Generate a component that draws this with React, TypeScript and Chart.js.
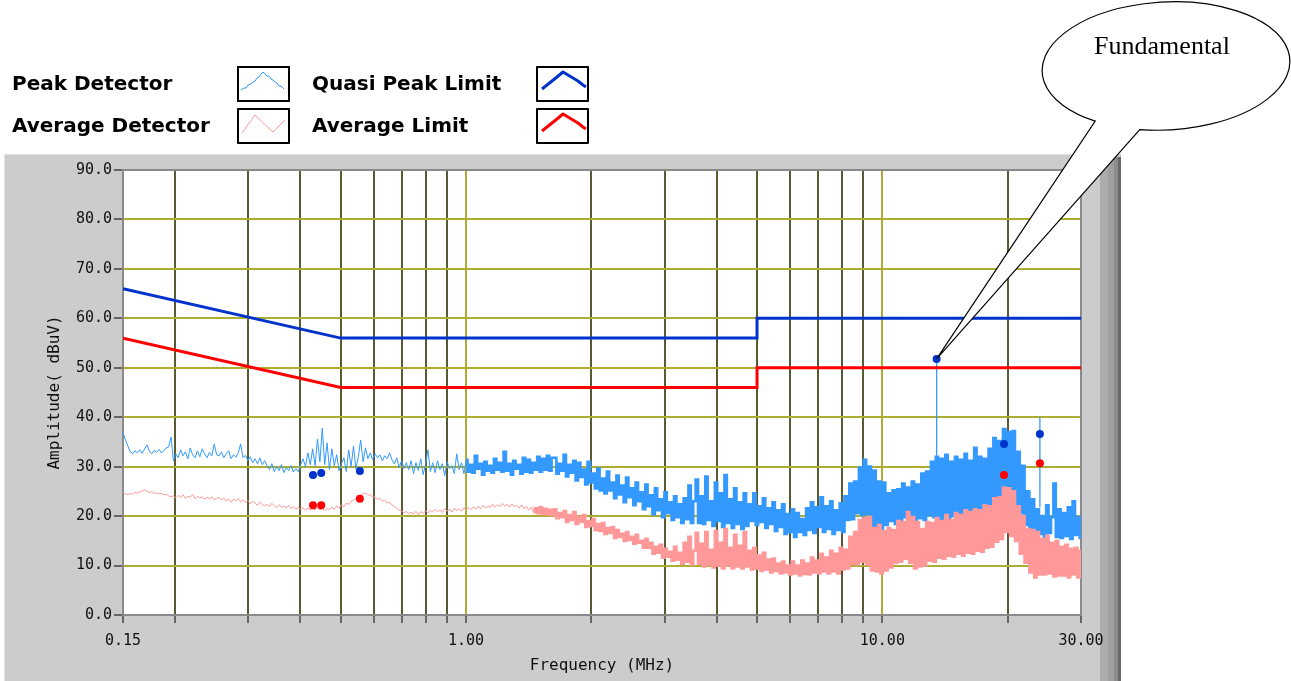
import React, { useEffect, useRef } from 'react';
import { Chart, registerables } from 'chart.js';

Chart.register(...registerables);

const W = 1291;
const H = 681;

// Receiver sweep (log-spaced measurement grid, MHz)
const SWEEP_START_MHZ = 0.15;
const SWEEP_STOP_MHZ = 30;

// Peak detector trace, dBuV (one value per sweep step)
const PEAK_DETECTOR = [
  36.8, 35.5, 34.2, 33.0, 32.6, 33.2, 32.8, 33.4, 32.7, 33.6, 34.4, 33.1, 32.6, 33.3, 32.9, 33.5, 32.8, 33.2, 33.8, 34.0,
  36.0, 31.2, 32.6, 31.8, 33.4, 32.2, 33.0, 31.6, 33.8, 32.4, 31.8, 33.2, 32.0, 33.6, 32.6, 31.8, 32.9, 32.2, 34.6, 32.4,
  32.2, 33.0, 31.8, 32.6, 33.2, 31.6, 32.4, 31.9, 32.8, 34.6, 31.8, 32.3, 31.2, 32.0, 30.8, 31.6, 30.6, 31.8, 30.4, 31.2,
  30.2, 29.4, 30.6, 29.0, 30.0, 29.2, 30.4, 28.8, 29.8, 29.2, 30.2, 28.9, 29.6, 29.0, 30.4, 31.6, 30.0, 32.8, 30.4, 33.6,
  30.2, 35.6, 31.0, 37.8, 30.4, 34.8, 29.4, 33.6, 30.2, 32.4, 29.2, 30.6, 31.8, 29.0, 33.4, 30.0, 34.2, 29.6, 32.0, 35.4,
  31.0, 33.8, 31.6, 32.8, 31.4, 32.6, 31.8, 32.4, 31.2, 32.2, 31.6, 32.8, 31.4, 30.6, 31.8, 29.8, 31.2, 29.6, 30.8, 29.4,
  31.2, 28.6, 30.8, 29.2, 31.6, 28.4, 30.4, 33.4, 29.0, 30.8, 28.8, 31.2, 29.4, 30.6, 28.2, 31.0, 29.6, 30.2, 28.6, 32.6,
  29.4, 30.8, 28.6, 31.4, 29.0, 30.4, 28.8, 32.2, 29.6, 30.6, 28.4, 31.0, 29.2, 30.2, 28.8, 31.6, 29.4, 30.8, 29.0, 33.0,
  29.2, 30.6, 28.4, 31.2, 29.6, 30.4, 28.6, 31.8, 29.0, 31.4, 28.8, 30.8, 29.4, 32.0, 29.0, 31.6, 29.4, 32.2, 29.2, 31.8,
  31.8, 28.6, 30.6, 29.2, 32.4, 28.0, 30.4, 28.8, 31.2, 27.2, 30.8, 27.9, 29.4, 26.4, 31.0, 26.8, 28.6, 25.6, 29.6, 25.2,
  27.6, 24.6, 29.0, 25.2, 26.8, 23.6, 28.2, 24.4, 26.2, 22.8, 27.8, 23.8, 25.6, 22.2, 26.8, 23.0, 24.8, 21.4, 26.4, 22.0,
  24.2, 20.4, 25.6, 21.2, 23.4, 19.8, 24.8, 20.6, 22.8, 19.2, 24.0, 19.8, 22.4, 18.6, 23.6, 19.4, 26.2, 18.6, 23.0, 27.4,
  18.6, 24.0, 18.4, 28.0, 19.2, 23.0, 18.0, 26.8, 19.0, 24.6, 17.8, 28.3, 18.6, 23.4, 17.6, 25.6, 18.4, 22.8, 17.4, 24.6,
  18.0, 22.4, 19.0, 24.6, 18.2, 22.0, 18.8, 23.6, 17.6, 21.6, 18.4, 22.8, 17.0, 21.2, 17.8, 22.4, 16.4, 20.4, 16.8, 21.4,
  15.8, 20.6, 16.8, 19.4, 16.2, 21.6, 17.2, 22.8, 16.6, 21.8, 17.8, 23.8, 16.8, 22.0, 17.4, 23.0, 16.4, 21.2, 17.2, 22.6,
  16.8, 24.0, 19.2, 26.6, 19.4, 27.0, 20.6, 29.8, 20.2, 31.4, 20.4, 30.0, 18.0, 29.2, 17.8, 27.0, 16.8, 26.8, 18.2, 24.6,
  19.0, 25.2, 18.4, 25.4, 19.0, 26.6, 19.8, 25.8, 19.4, 27.0, 19.0, 26.4, 19.6, 28.6, 19.2, 29.0, 20.2, 31.0, 19.8, 32.0,
  19.4, 31.6, 18.8, 32.4, 19.4, 31.0, 20.0, 32.0, 18.8, 31.4, 19.6, 32.6, 19.0, 31.2, 20.2, 33.8, 19.4, 32.0, 20.6, 31.6,
  20.8, 33.6, 20.6, 35.8, 21.8, 35.2, 21.6, 37.6, 22.8, 37.0, 22.0, 37.2, 21.2, 33.0, 20.6, 30.2, 18.2, 25.0, 17.6, 23.4,
  16.0, 21.4, 16.4, 20.0, 15.6, 22.2, 16.6, 19.8, 26.6, 15.8, 21.4, 15.6, 20.6, 16.0, 21.8, 15.4, 23.0, 16.2, 19.8, 15.6,
];

// Average detector trace, dBuV (one value per sweep step)
const AVERAGE_DETECTOR = [
  24.7, 24.5, 24.3, 24.6, 24.4, 24.8, 24.6, 24.9, 25.1, 25.3, 25.0, 24.8, 24.9, 24.6, 24.7, 24.5, 24.6, 24.3, 24.4, 24.1,
  23.9, 24.1, 23.7, 24.2, 23.8, 24.3, 23.6, 24.0, 23.8, 24.4, 23.5, 24.0, 23.7, 23.9, 23.4, 23.8, 23.5, 23.9, 23.3, 23.6,
  23.8, 23.2, 23.7, 23.0, 23.5, 22.8, 23.4, 23.1, 23.6, 22.9, 23.3, 22.7, 23.2, 22.5, 23.0, 22.6, 22.2, 22.8, 22.4, 22.0,
  22.4, 21.9, 22.6, 22.1, 21.7, 22.3, 21.8, 22.0, 21.6, 22.2, 21.5, 21.9, 21.4, 21.8, 21.3, 21.7, 21.2, 21.6, 21.3, 21.5,
  21.3, 21.7, 21.2, 21.6, 21.1, 21.5, 21.3, 21.8, 21.4, 22.0, 21.6, 22.3, 21.9, 22.6, 22.4, 23.0, 23.3, 23.6, 23.9, 24.2,
  24.5, 24.7, 24.2, 24.4, 23.8, 23.9, 23.4, 23.6, 23.0, 23.2, 22.6, 22.8, 22.2, 22.0, 21.6, 21.2, 21.0, 20.7, 20.9, 20.5,
  20.8, 20.4, 21.0, 20.3, 20.9, 20.5, 21.1, 20.6, 21.2, 20.8, 21.4, 20.9, 21.3, 20.7, 21.5, 21.0, 21.4, 20.8, 21.6, 21.1,
  21.5, 21.0, 21.7, 21.2, 21.8, 21.3, 21.9, 21.4, 22.0, 21.5, 22.2, 21.6, 22.1, 21.7, 22.4, 21.8, 22.3, 21.9, 22.6, 22.0,
  22.4, 21.8, 22.5, 21.9, 22.2, 21.6, 22.3, 21.5, 22.0, 21.2, 21.8, 20.8, 21.6, 20.6, 21.8, 20.4, 21.5, 20.4, 21.3, 20.2,
  21.4, 19.6, 20.6, 19.8, 21.0, 18.8, 20.2, 19.2, 20.8, 18.4, 19.8, 18.8, 20.2, 17.8, 19.0, 18.0, 19.4, 17.2, 18.4, 17.0,
  18.6, 16.4, 17.6, 16.6, 17.8, 15.6, 17.2, 15.8, 16.4, 15.0, 16.8, 15.2, 15.8, 14.4, 16.2, 14.6, 15.0, 13.6, 15.4, 13.6,
  14.6, 12.4, 13.8, 12.6, 14.2, 11.6, 13.4, 11.8, 12.8, 11.0, 13.8, 11.2, 12.6, 10.4, 14.6, 10.8, 15.8, 10.2, 13.0, 16.6,
  10.4, 14.4, 9.8, 16.8, 10.2, 13.2, 9.6, 17.0, 10.0, 14.6, 9.4, 17.4, 10.0, 13.6, 9.4, 16.2, 9.8, 14.0, 9.4, 16.8,
  9.8, 13.0, 9.2, 13.6, 9.4, 12.0, 8.9, 12.6, 9.2, 11.2, 8.6, 11.4, 8.9, 10.4, 8.4, 10.8, 8.6, 10.0, 8.2, 10.8,
  8.4, 10.0, 8.0, 11.0, 8.3, 10.4, 8.2, 11.6, 8.6, 11.0, 8.4, 12.4, 8.8, 11.6, 8.4, 13.0, 8.8, 12.4, 8.4, 13.6,
  9.2, 13.2, 9.4, 15.8, 10.4, 16.8, 10.2, 19.2, 10.8, 19.6, 10.2, 19.8, 9.0, 17.6, 8.8, 18.2, 8.4, 17.0, 9.0, 17.6,
  9.6, 17.2, 10.6, 19.0, 10.8, 18.8, 11.4, 20.8, 10.6, 19.8, 9.4, 18.8, 9.8, 17.4, 10.0, 18.8, 11.0, 18.6, 10.8, 19.6,
  11.6, 19.0, 11.4, 20.2, 12.0, 19.2, 11.8, 20.6, 12.4, 20.2, 12.0, 21.2, 12.6, 20.8, 12.4, 21.4, 13.0, 21.2, 12.8, 22.2,
  13.6, 22.0, 13.8, 23.6, 14.8, 23.8, 15.4, 25.8, 16.8, 25.6, 16.0, 25.0, 15.0, 22.0, 12.4, 20.0, 10.6, 17.4, 8.6, 17.2,
  7.6, 16.8, 8.2, 15.4, 8.2, 16.0, 8.4, 14.6, 7.8, 15.0, 8.0, 13.8, 8.0, 14.2, 7.6, 13.4, 8.2, 13.6, 7.6, 13.0,
];

// Single-frequency peaks of the peak trace (MHz, top dBuV, base dBuV)
const PEAK_STEM_FREQ = [13.5, 23.9];
const PEAK_STEM_TOP = [51.8, 40.0];
const PEAK_STEM_BASE = [32.2, 21.8];

// Limit lines (MHz / dBuV)
const LIMIT_FREQ = [0.15, 0.5, 5, 5, 30];
const QP_LIMIT = [66, 56, 56, 60, 60];
const AVG_LIMIT = [56, 46, 46, 50, 50];

// Final measurement points
const QP_MARK_FREQ = [0.429, 0.449, 0.556, 13.5, 19.6, 23.9];
const QP_MARK_VAL = [28.3, 28.7, 29.1, 51.8, 34.6, 36.6];
const AVG_MARK_FREQ = [0.429, 0.449, 0.556, 19.6, 23.9];
const AVG_MARK_VAL = [22.2, 22.2, 23.5, 28.3, 30.7];
const FUNDAMENTAL_FREQ = 13.5;
const FUNDAMENTAL_VAL = 51.8;

// Axes
const X_TICKS = [0.15, 0.2, 0.3, 0.4, 0.5, 0.6, 0.7, 0.8, 0.9, 1, 2, 3, 4, 5, 6, 7, 8, 9, 10, 20, 30];
const X_LABELED = [0.15, 1, 10, 30];
const X_MAJOR = [1, 10];
const Y_MIN = 0;
const Y_MAX = 90;
const Y_STEP = 10;

// Styles
const C_PEAK = '#3399ff';
const C_AVG = '#ff9999';
const C_QP_LIMIT = '#0033cc';
const C_AVG_LIMIT = '#ff0000';
const C_GRID = '#adad32';
const C_GRID_MINOR = '#5a5a32';
const C_PANEL = '#cccccc';
// above these frequencies the sweep is drawn as a dense min/max band
const PEAK_DENSE_FROM_MHZ = 1.0;
const AVG_DENSE_FROM_MHZ = 1.45;
const DENSE_WIDTH = 2.6;

const LEGEND = [
  { label: 'Peak Detector', color: C_PEAK, width: 1, col: 0, row: 0, shape: 'peak' },
  { label: 'Average Detector', color: C_AVG, width: 1, col: 0, row: 1, shape: 'avg' },
  { label: 'Quasi Peak Limit', color: C_QP_LIMIT, width: 3, col: 1, row: 0, shape: 'lim' },
  { label: 'Average Limit', color: C_AVG_LIMIT, width: 3, col: 1, row: 1, shape: 'lim' },
];

const SWATCH_SHAPES: Record<string, number[][]> = {
  peak: [[3, 23], [6, 21], [8, 21], [10, 18], [13, 17], [15, 15], [17, 14], [19, 11], [21, 10], [23, 7], [25, 5], [27, 7], [29, 9], [31, 9], [33, 12], [35, 13], [37, 15], [39, 16], [41, 19], [43, 19], [46, 22]],
  avg: [[4, 24], [17, 6], [35, 23], [47, 11]],
  lim: [[5, 22], [10, 18], [15, 14], [20, 10], [26, 5], [31, 8], [36, 11], [41, 14], [46, 18], [49, 20]],
};

const TICK_FONT = { family: '"DejaVu Sans Mono", monospace', size: 15 };
const TITLE_FONT = { family: '"DejaVu Sans Mono", monospace', size: 16 };

function sweepFreq(i: number, n: number) {
  return SWEEP_START_MHZ * Math.pow(SWEEP_STOP_MHZ / SWEEP_START_MHZ, i / (n - 1));
}

const decorPlugin = {
  id: 'decor',
  beforeDraw(chart: any) {
    const ctx = chart.ctx;
    const { left, top, right, bottom } = chart.chartArea;
    ctx.save();
    ctx.fillStyle = '#ffffff';
    ctx.fillRect(0, 0, W, H);
    // instrument panel
    ctx.fillStyle = C_PANEL;
    ctx.fillRect(4, 154, 1117, H - 154);
    ctx.fillStyle = '#e2e2e2';
    ctx.fillRect(4, 154, 1096, 1);
    ctx.fillRect(4, 154, 1, H - 154);
    const bands = [[1100, 8, '#adadad'], [1108, 6, '#a0a0a0'], [1114, 4, '#8c8c8c'], [1118, 3, '#686868']];
    for (const [x, w, c] of bands as any) {
      ctx.fillStyle = c;
      ctx.fillRect(x, 157, w, H - 157);
    }
    ctx.fillStyle = '#ffffff';
    ctx.fillRect(left, top, right - left, bottom - top);

    // legend
    ctx.font = 'bold 20px "DejaVu Sans", sans-serif';
    ctx.textBaseline = 'alphabetic';
    ctx.textAlign = 'left';
    for (const item of LEGEND) {
      const tx = item.col === 0 ? 12 : 312;
      const ty = item.row === 0 ? 90 : 132;
      ctx.fillStyle = '#000';
      ctx.fillText(item.label, tx, ty);
      const bx = item.col === 0 ? 238 : 537;
      const by = item.row === 0 ? 67 : 109;
      ctx.fillStyle = '#fff';
      ctx.fillRect(bx, by, 51, 34);
      ctx.strokeStyle = '#000';
      ctx.lineWidth = 2;
      ctx.strokeRect(bx, by, 51, 34);
      const pts = SWATCH_SHAPES[item.shape];
      ctx.beginPath();
      pts.forEach(([px, py], k) => (k === 0 ? ctx.moveTo(bx + px, by + py) : ctx.lineTo(bx + px, by + py)));
      ctx.strokeStyle = item.color;
      ctx.lineWidth = item.width;
      ctx.lineJoin = 'round';
      ctx.stroke();
    }
    ctx.restore();
  },
  beforeDatasetsDraw(chart: any) {
    const ctx = chart.ctx;
    const { left, top, right, bottom } = chart.chartArea;
    ctx.save();
    ctx.strokeStyle = '#8a8a8a';
    ctx.lineWidth = 2;
    ctx.beginPath();
    ctx.moveTo(left, top);
    ctx.lineTo(right, top);
    ctx.lineTo(right, bottom);
    ctx.stroke();
    ctx.restore();
  },
  afterDraw(chart: any) {
    const ctx = chart.ctx;
    const tipX = chart.scales.x.getPixelForValue(FUNDAMENTAL_FREQ);
    const tipY = chart.scales.y.getPixelForValue(FUNDAMENTAL_VAL);
    const cx = 1166, cy = 66, rx = 124, ry = 64, rot = -0.05;
    const angleOf = (px: number, py: number) => {
      const dx = px - cx, dy = py - cy;
      const xr = dx * Math.cos(rot) + dy * Math.sin(rot);
      const yr = -dx * Math.sin(rot) + dy * Math.cos(rot);
      return Math.atan2(yr / ry, xr / rx);
    };
    const a1 = angleOf(1098, 119);
    const a2 = angleOf(1140, 129);
    ctx.save();
    ctx.beginPath();
    ctx.moveTo(tipX, tipY);
    ctx.ellipse(cx, cy, rx, ry, rot, a1, a2, false);
    ctx.closePath();
    ctx.fillStyle = '#ffffff';
    ctx.fill();
    ctx.strokeStyle = '#000';
    ctx.lineWidth = 1.2;
    ctx.lineJoin = 'miter';
    ctx.stroke();
    ctx.fillStyle = '#000';
    ctx.font = '26px "Liberation Serif", "Times New Roman", serif';
    ctx.textAlign = 'center';
    ctx.textBaseline = 'alphabetic';
    ctx.fillText('Fundamental', 1162, 54);
    ctx.restore();
  },
};

function traceDatasets(values: number[], label: string, color: string, order: number, denseFrom: number) {
  const n = values.length;
  const pts = values.map((v, i) => ({ x: sweepFreq(i, n), y: v }));
  let split = pts.findIndex((p) => p.x >= denseFrom);
  if (split < 0) split = n - 1;
  const base = { pointRadius: 0, tension: 0, fill: false, borderColor: color, label, order };
  return [
    { ...base, data: pts.slice(0, split + 1), borderWidth: 1, borderJoinStyle: 'round' },
    { ...base, data: pts.slice(split), borderWidth: DENSE_WIDTH, stepped: 'middle', borderJoinStyle: 'miter', borderCapStyle: 'butt' },
  ];
}

function buildConfig(): any {
  const line = { pointRadius: 0, tension: 0, borderJoinStyle: 'round', fill: false };

  const stems = PEAK_STEM_FREQ.map((f, i) => ({
    ...line,
    label: 'Peak Detector',
    data: [{ x: f, y: PEAK_STEM_BASE[i] }, { x: f, y: PEAK_STEM_TOP[i] }],
    borderColor: C_PEAK,
    borderWidth: 1.3,
    order: 3,
  }));

  return {
    type: 'line',
    data: {
      datasets: [
        {
          label: 'QP',
          data: QP_MARK_FREQ.map((f, i) => ({ x: f, y: QP_MARK_VAL[i] })),
          showLine: false,
          pointRadius: 4,
          pointBorderWidth: 0,
          pointBackgroundColor: C_QP_LIMIT,
          borderColor: C_QP_LIMIT,
          order: 0,
        },
        {
          label: 'AV',
          data: AVG_MARK_FREQ.map((f, i) => ({ x: f, y: AVG_MARK_VAL[i] })),
          showLine: false,
          pointRadius: 4,
          pointBorderWidth: 0,
          pointBackgroundColor: C_AVG_LIMIT,
          borderColor: C_AVG_LIMIT,
          order: 0,
        },
        {
          ...line,
          label: 'Quasi Peak Limit',
          data: LIMIT_FREQ.map((f, i) => ({ x: f, y: QP_LIMIT[i] })),
          borderColor: C_QP_LIMIT,
          borderWidth: 3,
          borderJoinStyle: 'miter',
          order: 1,
        },
        {
          ...line,
          label: 'Average Limit',
          data: LIMIT_FREQ.map((f, i) => ({ x: f, y: AVG_LIMIT[i] })),
          borderColor: C_AVG_LIMIT,
          borderWidth: 3,
          borderJoinStyle: 'miter',
          order: 1,
        },
        ...traceDatasets(AVERAGE_DETECTOR, 'Average Detector', C_AVG, 2, AVG_DENSE_FROM_MHZ),
        ...stems,
        ...traceDatasets(PEAK_DETECTOR, 'Peak Detector', C_PEAK, 4, PEAK_DENSE_FROM_MHZ),
      ],
    },
    options: {
      animation: false,
      responsive: false,
      events: [],
      layout: { padding: { left: 45, top: 170, right: 210, bottom: 6 } },
      plugins: { legend: { display: false }, tooltip: { enabled: false } },
      scales: {
        x: {
          type: 'logarithmic',
          min: SWEEP_START_MHZ,
          max: SWEEP_STOP_MHZ,
          afterBuildTicks: (s: any) => {
            s.ticks = X_TICKS.map((v) => ({ value: v }));
          },
          afterFit: (s: any) => {
            s.height = 60;
          },
          ticks: {
            autoSkip: false,
            maxRotation: 0,
            minRotation: 0,
            padding: 9,
            font: TICK_FONT,
            color: '#111',
            callback: (v: any) => (X_LABELED.includes(Number(v)) ? Number(v).toFixed(2) : ''),
          },
          grid: {
            color: (c: any) => {
              const v = c.tick ? c.tick.value : null;
              if (v === null || v === SWEEP_START_MHZ || v === SWEEP_STOP_MHZ) return 'rgba(0,0,0,0)';
              return X_MAJOR.includes(v) ? C_GRID : C_GRID_MINOR;
            },
            lineWidth: 2,
            tickColor: '#000',
            tickWidth: 1,
            tickLength: 8,
            drawTicks: true,
          },
          border: { display: true, color: '#8a8a8a', width: 2 },
          title: { display: true, text: 'Frequency (MHz)', font: TITLE_FONT, color: '#111', padding: 0 },
        },
        y: {
          type: 'linear',
          min: Y_MIN,
          max: Y_MAX,
          afterFit: (s: any) => {
            s.width = 78;
          },
          ticks: {
            stepSize: Y_STEP,
            padding: 2,
            font: TICK_FONT,
            color: '#111',
            callback: (v: any) => Number(v).toFixed(1),
          },
          grid: {
            color: (c: any) => {
              const v = c.tick ? c.tick.value : null;
              if (v === null || v === Y_MIN || v === Y_MAX) return 'rgba(0,0,0,0)';
              return C_GRID;
            },
            lineWidth: 2,
            tickColor: '#000',
            tickWidth: 1,
            tickLength: 9,
            drawTicks: true,
          },
          border: { display: true, color: '#8a8a8a', width: 2 },
          title: { display: true, text: 'Amplitude( dBuV)', font: TITLE_FONT, color: '#111', padding: 0 },
        },
      },
    },
    plugins: [decorPlugin],
  };
}

export default function App() {
  const ref = useRef<HTMLCanvasElement>(null);
  useEffect(() => {
    if (!ref.current) return;
    const chart = new Chart(ref.current, buildConfig());
    return () => chart.destroy();
  }, []);
  return (
    <div style={{ position: 'fixed', left: 0, top: 0, width: W, height: H, background: '#fff' }}>
      <canvas ref={ref} width={W} height={H} style={{ display: 'block', width: W, height: H }} />
    </div>
  );
}
